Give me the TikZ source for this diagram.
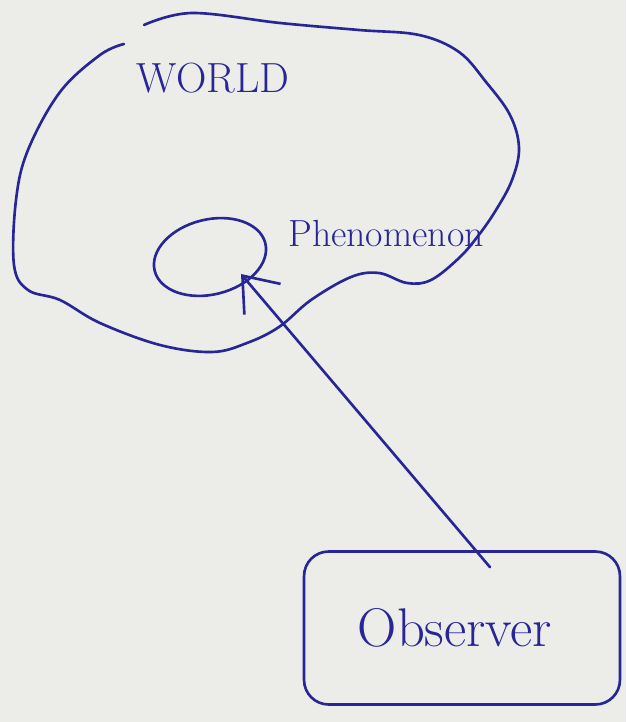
\documentclass[tikz,border=0pt]{standalone}
\usepackage{tikz}
\usetikzlibrary{shapes.geometric, arrows.meta, calc}
\definecolor{ink}{RGB}{40,38,150}
\definecolor{paper}{RGB}{236,236,232}

\begin{document}
\begin{tikzpicture}[
  x=0.02cm, y=-0.02cm,
  line width=1.5pt, line cap=round, line join=round,
  pen/.style={draw=ink},
  txt/.style={text=ink, inner sep=0pt},
  blob/.style={draw=ink, ellipse, minimum width=2.28cm,
               minimum height=1.5cm, rotate=14},
  obsbox/.style={draw=ink, rounded corners=14pt,
                 minimum width=6.32cm, minimum height=3.06cm},
  arr/.style={-{Straight Barb[length=0.62cm,width=0.95cm]}, draw=ink},
]

\fill[paper] (0,0) rectangle (626,722);

\draw[pen] plot[smooth, tension=0.6] coordinates {
  (144,25) (192,13) (280,23) (359,30) (419,35) (459,52) (486,82)
  (510,115) (519,148) (512,180) (496,210) (478,236) (459,258)
  (431,280) (407,283) (379,273) (351,277) (311,300) (279,327)
  (247,343) (212,352) (160,345) (100,323) (60,300) (28,290)
  (14,265) (16,200) (28,150) (60,92) (100,55) (124,44)};

\node[txt, font=\fontsize{24}{28}\selectfont] (world) at (213,78) {WORLD};
\node[blob] (phen) at (210,257) {};
\node[txt, font=\fontsize{21.5}{26}\selectfont, anchor=west] (phenlbl)
      at (287,234) {Phenomenon};
\node[obsbox] (obs) at (462,628) {};
\node[txt, font=\fontsize{31}{36}\selectfont] (obslbl) at (455,628) {Observer};

\draw[arr] ([shift={(28,17)}]obs.north) -- ([shift={(31,17)}]phen.center);

\end{tikzpicture}
\end{document}
